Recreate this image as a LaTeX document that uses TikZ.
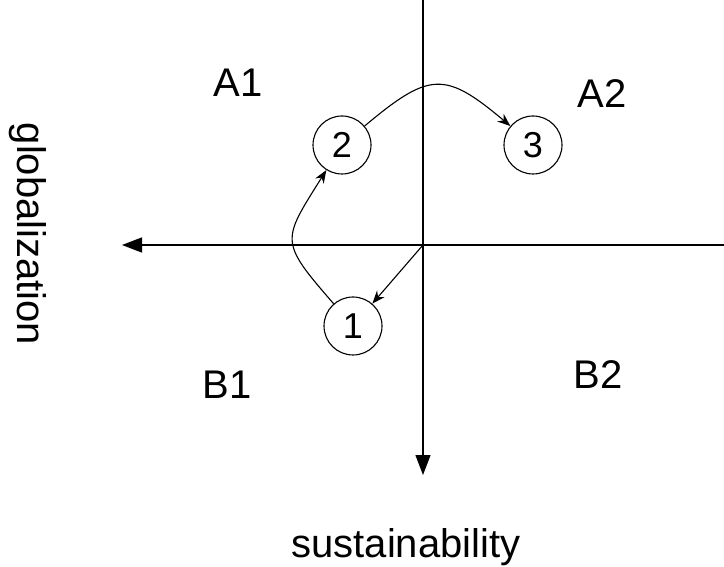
\documentclass[tikz,border=0pt]{standalone}
\usepackage{fontspec}
\setmainfont{Liberation Sans}
\usetikzlibrary{arrows.meta}

\begin{document}
\begin{tikzpicture}[x=1pt, y=1pt,
    state/.style = {draw, circle, line width=1.1pt, minimum size=58pt, inner sep=0pt, font=\fontsize{36}{40}\selectfont},
    lbl/.style = {font=\fontsize{40}{44}\selectfont},
    axis/.style = {line width=1.4pt, -{Triangle[length=20pt, width=15pt]}},
    move/.style = {line width=1.1pt, -{Stealth[length=13pt, width=10pt]}}]
    \useasboundingbox (0,0) rectangle (724,566);
    % axes
    \coordinate (O) at (423,321);
    \coordinate (R) at (724,321);
    \coordinate (L) at (122,321);
    \coordinate (T) at (423,566);
    \coordinate (D) at (423,91);
    \draw[axis] (R) -- (L);
    \draw[axis] (T) -- (D);
    % quadrants
    \node[lbl] (a1) at (238,483) {A1};
    \node[lbl] (a2) at (602,472) {A2};
    \node[lbl] (b1) at (227,181) {B1};
    \node[lbl] (b2) at (598,191) {B2};
    \node[lbl, rotate=-90] (glob) at (28,332) {globalization};
    \node[lbl, anchor=base] (sust) at (406,9) {sustainability};
    % path
    \node[state] (n1) at (353,240) {1};
    \node[state] (n2) at (342,421) {2};
    \node[state] (n3) at (533,421) {3};
    \draw[move] (O) -- (n1);
    \draw[move] (n1) to[out=131, in=238, looseness=1.6] (n2);
    \draw[move] (n2) to[out=40, in=140, looseness=1.5] (n3);
\end{tikzpicture}
\end{document}
